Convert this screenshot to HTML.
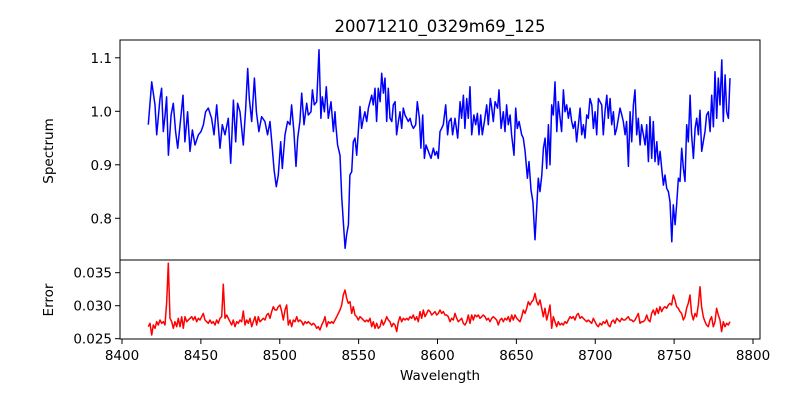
<!DOCTYPE html>
<html><head><meta charset="utf-8"><style>
body{margin:0;background:#fff;}
svg{display:block;font-family:"DejaVu Sans","Liberation Sans",sans-serif;}
</style></head><body>
<svg id="chart" width="800" height="400" viewBox="0 0 800 400" xmlns="http://www.w3.org/2000/svg">
<rect width="800" height="400" fill="#fff"/>
<text x="440" y="32" font-size="16.5" text-anchor="middle">20071210_0329m69_125</text>
<g id="topPanel"></g><g id="botPanel"></g>
<text transform="translate(53,151) rotate(-90)" font-size="13.5" text-anchor="middle">Spectrum</text>
<text transform="translate(53,300) rotate(-90)" font-size="13.5" text-anchor="middle">Error</text>
<text x="440" y="380" font-size="13.5" text-anchor="middle">Wavelength</text>
</svg>
<script>
const waveFlux=[8416.7,8418.8,8420.9,8422.0,8424.1,8425.1,8426.2,8427.3,8428.3,8429.4,8431.1,8432.5,8434.0,8435.3,8436.8,8438.7,8439.9,8441.6,8443.1,8444.6,8446.3,8448.4,8450.1,8451.6,8453.0,8454.7,8456.8,8458.3,8460.0,8462.1,8463.6,8465.3,8467.4,8468.9,8470.6,8472.1,8473.3,8474.8,8476.9,8478.4,8479.7,8480.7,8482.2,8483.9,8485.2,8486.8,8488.5,8490.6,8492.3,8493.8,8495.3,8496.4,8497.8,8499.1,8500.6,8501.6,8503.3,8505.0,8506.5,8507.5,8509.0,8510.3,8511.4,8512.8,8513.9,8515.4,8517.1,8518.1,8519.8,8520.7,8521.9,8523.4,8524.9,8526.1,8527.0,8528.3,8529.5,8530.8,8532.5,8534.0,8535.0,
8535.5,8536.7,8538.2,8539.3,8540.3,8541.4,8542.4,8543.5,8544.5,8545.6,8546.6,8547.7,8548.8,8549.8,8550.9,8551.9,8553.0,8554.0,8555.1,8556.2,8558.3,8559.3,8560.4,8561.4,8562.5,8563.6,8564.6,8565.7,8566.7,8567.8,8568.8,8569.9,8571.0,8572.0,8573.1,8574.1,8575.2,8576.2,8577.3,8578.3,8579.4,8581.5,8582.6,8583.6,8584.7,8586.2,8587.2,8588.5,8589.5,8590.6,8591.7,8592.7,8594.2,8595.9,8597.4,8598.4,8599.5,8600.5,8601.6,8602.6,8603.7,8605.2,8606.4,8607.3,8608.6,8609.6,8611.1,8612.8,8614.3,8615.3,8616.4,8617.4,8618.5,8619.5,8620.6,8621.7,8623.1,8624.2,8625.3,8626.3,8627.4,8628.4,8629.7,8631.2,8632.2,8633.5,8634.3,8635.4,8636.5,8638.1,8639.0,8640.3,8641.7,8642.8,8643.8,8644.9,8646.0,8647.0,8648.5,8649.6,8650.6,8651.7,8653.4,8654.4,8655.5,8657.0,8658.0,8659.3,8660.5,8661.8,
8662.9,8663.9,8665.0,8666.1,8667.1,8668.2,8669.2,8670.3,8671.3,8672.4,8673.4,8674.5,8675.6,8676.6,8677.7,8678.7,8679.8,8680.8,8681.9,8683.0,8684.0,8685.1,8686.1,8687.2,8688.2,8689.3,8690.4,8691.4,8692.5,8693.5,8694.6,8695.6,8696.7,8697.8,8698.8,8699.9,8700.9,8702.0,8703.0,8704.1,8705.1,8706.2,8707.3,8708.3,8709.4,8710.4,8711.5,8712.5,8713.6,8714.7,8715.7,8716.8,8717.8,8718.9,8719.9,8721.0,8722.1,8723.1,8724.2,8725.2,8726.3,8727.3,8728.4,8729.4,8730.5,8731.6,8732.6,8733.7,8734.7,8735.8,8736.8,8737.9,8739.0,8740.0,8741.1,8742.1,8743.2,8744.2,8745.3,8746.4,8747.4,8748.5,8749.5,8750.6,8751.6,8752.7,8753.7,8754.8,8755.9,8756.9,8758.0,8759.0,8760.1,8761.1,8762.2,8763.3,8764.3,8765.4,8766.4,8767.5,8768.5,8769.6,8770.6,8771.7,8772.8,8773.8,8774.9,8775.9,8777.0,8778.0,8779.1,8780.2,8781.2,8782.3,8783.3,8784.4,8785.4];
const fluxValues=[0.975,1.055,1.012,0.956,1.024,1.043,0.962,0.993,1.027,0.918,0.993,1.015,0.962,0.931,0.975,1.030,0.943,0.999,0.925,0.965,0.937,0.956,0.962,0.975,0.999,1.006,0.987,0.956,1.012,0.931,0.975,0.956,0.987,0.903,1.021,0.943,1.015,0.999,0.937,1.006,1.080,1.024,0.981,1.062,0.999,0.962,0.990,0.981,0.956,0.981,0.931,0.890,0.859,0.881,0.943,0.893,0.956,0.981,0.975,1.012,0.962,0.897,0.950,0.981,1.034,0.975,1.015,0.993,0.999,1.040,1.012,1.018,1.115,0.987,1.027,0.999,1.046,0.987,1.018,0.962,0.999,
0.975,0.937,0.918,0.841,0.794,0.744,0.769,0.788,0.881,0.887,0.943,0.950,0.918,0.962,1.009,0.968,0.987,0.999,0.981,1.006,1.030,1.012,1.043,0.981,1.043,1.018,1.071,1.034,1.062,0.981,1.043,0.987,0.981,1.012,1.018,0.956,0.981,0.999,0.968,1.006,0.993,0.981,0.987,0.975,0.968,0.975,1.018,0.987,0.931,0.993,0.912,0.937,0.925,0.912,0.931,0.918,0.925,0.912,0.962,0.968,0.975,1.012,0.956,0.981,0.987,0.956,0.987,0.950,1.018,0.987,1.030,0.968,1.024,0.987,1.046,0.956,0.993,0.975,0.996,0.956,0.993,0.956,0.981,1.012,0.975,1.024,1.009,0.981,1.018,1.006,1.040,0.968,0.999,0.962,1.012,0.975,0.993,0.956,0.918,1.006,0.968,0.981,0.956,0.950,0.925,0.875,0.906,0.853,0.831,0.760,
0.819,0.875,0.850,0.881,0.931,0.950,0.893,0.975,0.900,1.012,0.993,1.055,0.962,1.018,0.987,0.962,1.040,0.999,1.012,0.987,1.006,0.981,0.968,0.981,0.943,0.975,1.006,0.956,0.975,0.950,0.993,0.987,1.024,1.012,0.968,0.999,0.956,1.024,1.018,1.012,0.956,0.999,1.030,0.987,1.024,0.975,0.999,0.956,0.968,0.987,1.006,0.993,0.981,0.956,0.981,0.897,0.999,0.943,1.012,1.040,0.956,0.987,0.937,0.975,0.956,0.937,0.975,0.906,0.990,0.912,0.981,0.906,0.943,0.900,0.925,0.893,0.862,0.881,0.856,0.850,0.831,0.756,0.825,0.788,0.825,0.875,0.869,0.931,0.893,0.869,0.975,0.943,1.030,0.956,0.912,0.968,0.987,0.956,1.002,0.925,0.943,0.962,0.993,0.999,0.962,1.030,0.971,1.074,0.987,1.062,1.012,1.096,0.981,1.068,0.999,0.987,1.062];
const errStart=8416.69, errStep=1.0565;
const errValues=[.02682,.02733,.02556,.02708,.02657,.02758,.02708,.02783,.02733,.02758,.02708,.03061,.03642,.02809,.02758,.02657,.02758,.02682,.02809,.02682,.02834,.02657,.02834,.02758,.02783,.02809,.02834,.02783,.02834,.02758,.02809,.02783,.02834,.02884,.02783,.02758,.02733,.02783,.02733,.02758,.02708,.02783,.02733,.02809,.02834,.03324,.02809,.02859,.02809,.02758,.02708,.02783,.02682,.02758,.02733,.02783,.02758,.02920,.02708,.02783,.02733,.02809,.02682,.02758,.02834,.02708,.02834,.02758,.02783,.02809,.02783,.02859,.02884,.02809,.02910,.02985,.02935,.02935,.02985,.03011,.02910,.02783,.02935,.03011,.02708,.02783,.02682,.02783,.02758,.02834,.02758,.02783,.02758,.02708,.02758,.02733,.02758,.02733,.02708,.02733,.02708,.02657,.02682,.02632,.02708,.02758,.02834,.02682,.02758,.02733,.02758,.02733,.02783,.02834,.02884,.02935,.03011,.03162,.03238,.03112,.03036,.03061,.02884,.02985,.02859,.02834,.02783,.02834,.02809,.02783,.02758,.02783,.02758,.02809,.02682,.02758,.02657,.02733,.02657,.02682,.02783,.02708,.02758,.02834,.02783,.02758,.02682,.02733,.02708,.02607,.02758,.02834,.02758,.02809,.02783,.02809,.02783,.02834,.02809,.02859,.02783,.02834,.02758,.02910,.02809,.02935,.02834,.02884,.02935,.02910,.02859,.02884,.02910,.02859,.02884,.02935,.02884,.02910,.02859,
.02859,.02834,.02758,.02809,.02783,.02884,.02809,.02758,.02783,.02809,.02733,.02708,.02758,.02859,.02733,.02859,.02783,.02859,.02834,.02859,.02809,.02834,.02859,.02834,.02783,.02809,.02758,.02809,.02834,.02809,.02783,.02708,.02783,.02809,.02758,.02809,.02783,.02834,.02758,.02859,.02783,.02859,.02809,.02783,.02758,.02834,.02935,.02884,.02960,.03061,.03011,.03061,.03086,.03187,.03061,.03011,.03086,.02960,.02834,.02960,.02783,.02884,.03011,.02657,.02834,.02758,.02682,.02758,.02708,.02733,.02708,.02758,.02733,.02783,.02834,.02809,.02834,.02783,.02859,.02884,.02809,.02834,.02809,.02783,.02758,.02783,.02758,.02733,.02809,.02758,.02708,.02682,.02733,.02708,.02758,.02733,.02783,.02708,.02682,.02758,.02783,.02733,.02809,.02783,.02758,.02809,.02783,.02783,.02809,.02834,.02783,.02783,.02758,.02783,.02834,.02884,.02733,.02758,.02758,.02783,.02859,.02783,.02758,.02884,.02935,.02859,.02960,.02884,.02985,.02910,.02960,.02985,.02960,.03011,.03036,.03011,.03162,.03086,.02985,.02960,.02910,.02884,.02783,.02834,.02960,.03036,.03162,.02884,.02783,.02884,.02834,.03011,.03288,.02985,.02834,.02758,.02708,.02682,.02783,.02834,.02682,.02758,.02960,.02859,.02783,.02607,.02758,.02682,.02733,.02708,.02758];
const xTicks=[8400,8450,8500,8550,8600,8650,8700,8750,8800];
const fluxTicks=[0.8,0.9,1.0,1.1];
const errTicks=[0.025,0.030,0.035];
const errTickLabels=["0.025","0.030","0.035"];

const NS="http://www.w3.org/2000/svg";
const PL=120,PR=760;
const xs=w=>122+(w-8400)*(753-122)/400;
const yTop=v=>111.3-(v-1)*535;
const yBot=v=>305.7-(v-0.03)*6600;
function mk(tag,attrs,parent){const e=document.createElementNS(NS,tag);for(const k in attrs)e.setAttribute(k,attrs[k]);parent.appendChild(e);return e;}
const gTop=document.getElementById('topPanel'), gBot=document.getElementById('botPanel');

const defs=mk('defs',{},document.getElementById('chart'));
const c1=mk('clipPath',{id:'c1'},defs);mk('rect',{x:PL,y:40,width:PR-PL,height:220},c1);
const c2=mk('clipPath',{id:'c2'},defs);mk('rect',{x:PL,y:260,width:PR-PL,height:79},c2);

let d='';
fluxValues.forEach((v,i)=>{d+=(i?'L':'M')+xs(waveFlux[i]).toFixed(1)+','+yTop(v).toFixed(1);});
const fl=mk('path',{d:d,fill:'none',stroke:'#0000ff','stroke-width':1.5,'stroke-linejoin':'round','clip-path':'url(#c1)'},gTop);



d='';
errValues.forEach((v,i)=>{d+=(i?'L':'M')+xs(errStart+i*errStep).toFixed(1)+','+yBot(v).toFixed(1);});
const el=mk('path',{d:d,fill:'none',stroke:'#ff0000','stroke-width':1.5,'stroke-linejoin':'round','clip-path':'url(#c2)'},gBot);



const f1=mk('rect',{x:PL,y:40,width:PR-PL,height:220,fill:'none',stroke:'#000','stroke-width':1},gTop);


const f2=mk('rect',{x:PL,y:260,width:PR-PL,height:79,fill:'none',stroke:'#000','stroke-width':1},gBot);



fluxTicks.forEach(t=>{const y=yTop(t);
 mk('line',{x1:PL-5,x2:PL,y1:y,y2:y,stroke:'#000'},gTop);
 const tx=mk('text',{x:PL-8,y:y+5,'font-size':13.5,'text-anchor':'end'},gTop);tx.textContent=t.toFixed(1);
 
 });
errTicks.forEach((t,i)=>{const y=yBot(t);
 mk('line',{x1:PL-5,x2:PL,y1:y,y2:y,stroke:'#000'},gBot);
 const tx=mk('text',{x:PL-8,y:y+5,'font-size':13.5,'text-anchor':'end'},gBot);tx.textContent=errTickLabels[i];
 
 });
xTicks.forEach(t=>{const x=xs(t);
 mk('line',{x1:x,x2:x,y1:339,y2:344,stroke:'#000'},gBot);
 const tx=mk('text',{x:x,y:360,'font-size':13.5,'text-anchor':'middle'},gBot);tx.textContent=t;
 
 });
</script>
</body></html>
